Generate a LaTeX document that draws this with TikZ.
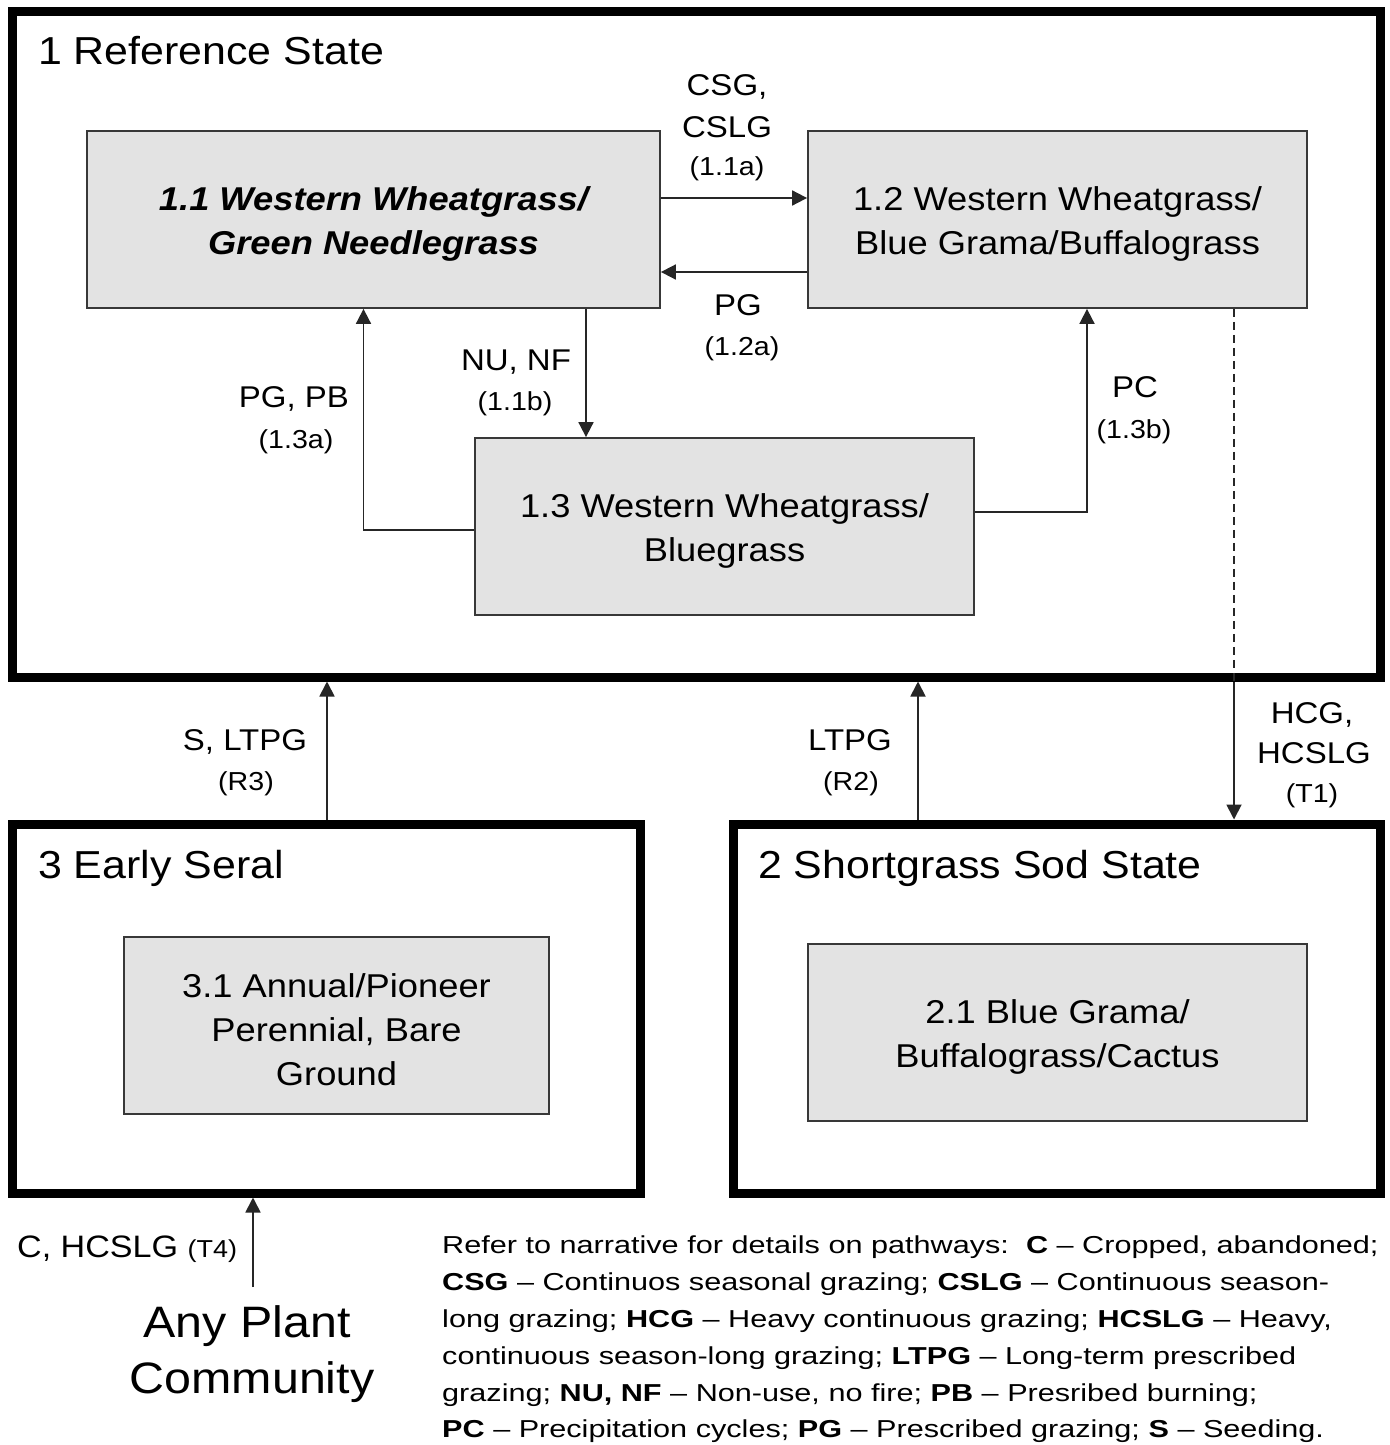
\documentclass[tikz,border=0pt]{standalone}
\usepackage{fontspec}
\setmainfont{Liberation Sans}[FakeStretch=1.1]
\newfontfamily\legfont{Liberation Sans}[FakeStretch=1.25]
\usetikzlibrary{arrows.meta,calc}
\definecolor{boxfill}{HTML}{E3E3E3}
\definecolor{edgecol}{HTML}{383838}
\newcommand{\topfix}{\rule{0pt}{32pt}}
\begin{document}
\begin{tikzpicture}[x=1pt,y=-1pt,
  commbox/.style={draw=edgecol, fill=boxfill, line width=1.8pt, inner sep=0pt, align=center, font=\fontsize{33}{44}\selectfont},
  statebox/.style={draw=black, line width=9pt, inner sep=0pt},
  statetitle/.style={anchor=base west, inner sep=0pt, font=\fontsize{39}{44}\selectfont},
  lab/.style={anchor=base, inner sep=0pt, font=\fontsize{30}{36}\selectfont},
  code/.style={anchor=base, inner sep=0pt, font=\fontsize{26}{30}\selectfont},
  conn/.style={draw=black!85, line width=1.8pt},
  arr/.style={conn, -{Triangle[length=15pt,width=15pt]}},
  legline/.style={anchor=base west, inner sep=0pt, font=\legfont\fontsize{24.5}{30}\selectfont},
]
\useasboundingbox (0,0) rectangle (1389,1445);
\fill[white] (0,0) rectangle (1389,1445);

% state boxes
\node[statebox, minimum width=1368pt, minimum height=665pt] (s1) at (696,344.5) {};
\node[statebox, minimum width=628pt, minimum height=369pt] (s3) at (326,1008.5) {};
\node[statebox, minimum width=647pt, minimum height=369pt] (s2) at (1056.5,1008.5) {};

\node[statetitle] (t1) at (38,65) {1 Reference State};
\node[statetitle] (t3) at (38,878) {3 Early Seral};
\node[statetitle] (t2) at (758,878) {2 Shortgrass Sod State};

% community boxes
\node[commbox, minimum width=573pt, minimum height=177pt, font=\fontsize{33}{44}\selectfont\bfseries\itshape] (b11) at (373.5,219.5) {\topfix 1.1 Western Wheatgrass/\\Green Needlegrass};
\node[commbox, minimum width=499pt, minimum height=177pt] (b12) at (1057.5,219.5) {\topfix 1.2 Western Wheatgrass/\\Blue Grama/Buffalograss};
\node[commbox, minimum width=499pt, minimum height=177pt] (b13) at (724.5,526.5) {\topfix 1.3 Western Wheatgrass/\\Bluegrass};
\node[commbox, minimum width=425pt, minimum height=177pt] (b31) at (336.5,1025.5) {\topfix 3.1 Annual/Pioneer\\Perennial, Bare\\Ground};
\node[commbox, minimum width=499pt, minimum height=177pt] (b21) at (1057.5,1032.5) {\topfix 2.1 Blue Grama/\\Buffalograss/Cactus};

% connectors inside state 1
\draw[arr] ([yshift=21.5pt]b11.east) -- ([yshift=21.5pt]b12.west);
\draw[arr] ([yshift=-52.5pt]b12.west) -- ([yshift=-52.5pt]b11.east);
\draw[arr] ([xshift=212.5pt]b11.south) -- ([xshift=212.5pt]b11.south |- b13.north);
\draw[arr] ([yshift=-3.5pt]b13.west) -| ([xshift=-10pt]b11.south);
\draw[arr] ([yshift=14.5pt]b13.east) -| ([xshift=29.5pt]b12.south);
\draw[conn, dash pattern=on 8pt off 5pt] ([xshift=176.5pt]b12.south) -- ([xshift=176.5pt]b12.south |- s1.south);
\draw[arr] ([xshift=176.5pt]b12.south |- s1.south) -- ([xshift=176.5pt]b12.south |- s2.north);

% transitions between states
\draw[arr] ([xshift=1pt]s3.north) -- ([xshift=1pt]s3.north |- s1.south);
\draw[arr] ([xshift=-138.5pt]s2.north) -- ([xshift=-138.5pt]s2.north |- s1.south);
\coordinate (t4s) at (253,1287);
\draw[arr] (t4s) -- (t4s |- s3.south);

% labels
\node[lab] (l1a1) at (727,95) {CSG,};
\node[lab] (l1a2) at (727,137) {CSLG};
\node[code] (l1a3) at (727,175) {(1.1a)};
\node[lab] (l2a1) at (738,315) {PG};
\node[code] (l2a2) at (742,355) {(1.2a)};
\node[lab] (l1b1) at (516,370) {NU, NF};
\node[code] (l1b2) at (515,410) {(1.1b)};
\node[lab] (l3a1) at (294,407) {PG, PB};
\node[code] (l3a2) at (296,448) {(1.3a)};
\node[lab] (l3b1) at (1135,397) {PC};
\node[code] (l3b2) at (1134,438) {(1.3b)};
\node[lab] (lr31) at (245,750) {S, LTPG};
\node[code] (lr32) at (246,790) {(R3)};
\node[lab] (lr21) at (850,750) {LTPG};
\node[code] (lr22) at (851,790) {(R2)};
\node[lab] (lt11) at (1312,723) {HCG,};
\node[lab] (lt12) at (1314,763) {HCSLG};
\node[code] (lt13) at (1312,802) {(T1)};
\node[anchor=base west, inner sep=0pt, font=\fontsize{31}{36}\selectfont] (lt4) at (17,1257) {C, HCSLG {\fontsize{24.5}{30}\selectfont(T4)}};

% any plant community
\node[anchor=base, inner sep=0pt, font=\fontsize{44}{56}\selectfont] (apc1) at (247,1337) {Any Plant};
\node[anchor=base, inner sep=0pt, font=\fontsize{44}{56}\selectfont] (apc2) at (252,1393) {Community};

% legend
\node[legline] (lg1) at (442,1253) {Refer to narrative for details on pathways:\ \ \textbf{C} – Cropped, abandoned;};
\node[legline] (lg2) at (442,1290) {\textbf{CSG} – Continuos seasonal grazing; \textbf{CSLG} – Continuous season-};
\node[legline] (lg3) at (442,1327) {long grazing; \textbf{HCG} – Heavy continuous grazing; \textbf{HCSLG} – Heavy,};
\node[legline] (lg4) at (442,1364) {continuous season-long grazing; \textbf{LTPG} – Long-term prescribed};
\node[legline] (lg5) at (442,1401) {grazing; \textbf{NU, NF} – Non-use, no fire; \textbf{PB} – Presribed burning;};
\node[legline] (lg6) at (442,1437) {\textbf{PC} – Precipitation cycles; \textbf{PG} – Prescribed grazing; \textbf{S} – Seeding.};
\end{tikzpicture}
\end{document}
